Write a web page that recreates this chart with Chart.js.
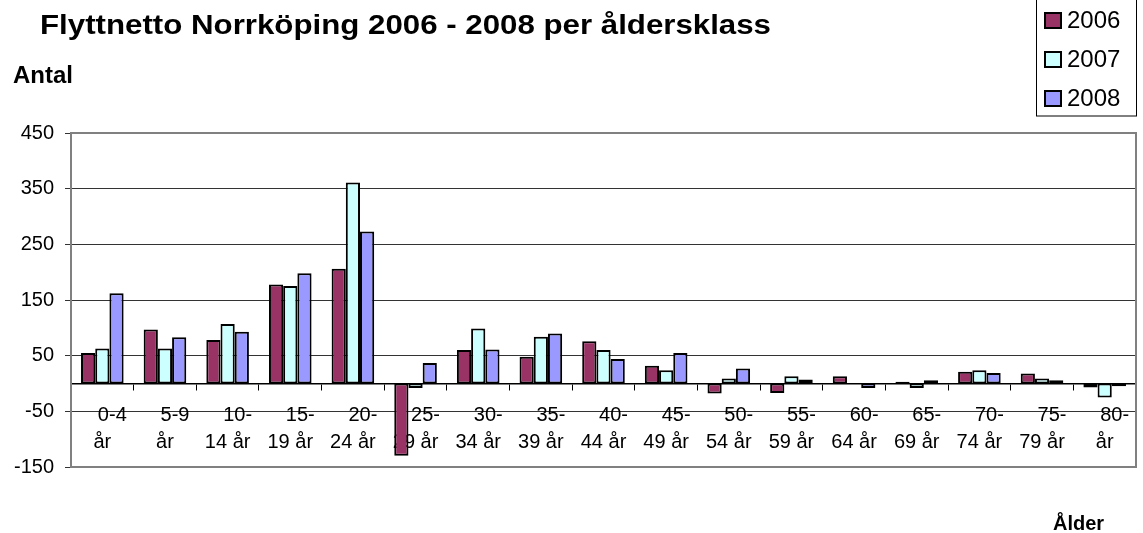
<!DOCTYPE html>
<html><head><meta charset="utf-8">
<script src="https://cdn.jsdelivr.net/npm/chart.js@4/dist/chart.umd.min.js"></script>
<style>html,body{margin:0;padding:0;background:#fff;}#wrap{width:1143px;height:533px;position:relative;}</style>
</head><body><div id="wrap"><canvas id="c" width="1143" height="533"></canvas></div>
<script>
const titleText = 'Flyttnetto Norrköping 2006 - 2008 per åldersklass';
const yTitle = 'Antal';
const xTitle = 'Ålder';
const labelLine1 = ['0-4','5-9','10-','15-','20-','25-','30-','35-','40-','45-','50-','55-','60-','65-','70-','75-','80-'];
const labelLine2 = ['år','år','14 år','19 år','24 år','29 år','34 år','39 år','44 år','49 år','54 år','59 år','64 år','69 år','74 år','79 år','år'];
const seriesNames = ['2006','2007','2008'];
const v2006 = [55, 97, 78, 178, 206, -130, 60, 48, 76, 32, -18, -17, 13, 3, 21, 18, -7];
const v2007 = [63, 63, 107, 175, 361, -8, 99, 84, 60, 24, 9, 13, 0, -8, 24, 9, -25];
const v2008 = [162, 83, 93, 198, 273, 37, 61, 90, 44, 55, 27, 7, -8, 6, 19, 6, -5];
const yTicks = [-150, -50, 50, 150, 250, 350, 450];
const colors = ['#993366', '#CCFFFF', '#9999FF'];

const FONT = '"Liberation Sans", Arial, sans-serif';
Chart.defaults.font.family = FONT;
Chart.defaults.color = '#000';

function stretchedText(ctx, text, x, y, width) {
  const w = ctx.measureText(text).width;
  ctx.save();
  ctx.translate(x, y);
  ctx.scale(width / w, 1);
  ctx.fillText(text, 0, 0);
  ctx.restore();
}

const decor = {
  id: 'decor',
  beforeDraw(chart) {
    const ctx = chart.ctx;
    ctx.save();
    ctx.fillStyle = '#fff';
    ctx.fillRect(0, 0, chart.width, chart.height);
    ctx.restore();
  },
  afterDraw(chart) {
    const ctx = chart.ctx, a = chart.chartArea;
    ctx.save();
    ctx.strokeStyle = '#808080';
    ctx.lineWidth = 2;
    ctx.strokeRect(a.left, a.top, a.right - a.left, a.bottom - a.top);
    ctx.fillStyle = '#000';
    ctx.textAlign = 'left';
    ctx.textBaseline = 'alphabetic';
    ctx.font = 'bold 28px ' + FONT;
    stretchedText(ctx, titleText, 40, 34, 731);
    ctx.font = 'bold 24px ' + FONT;
    ctx.fillText(yTitle, 13, 83);
    ctx.font = 'bold 20px ' + FONT;
    ctx.fillText(xTitle, 1053, 530);
    // legend
    ctx.fillStyle = '#fff';
    ctx.fillRect(1036, -2, 101, 118);
    ctx.strokeStyle = '#000';
    ctx.lineWidth = 1;
    ctx.strokeRect(1036.5, -2, 100, 118);
    chart.data.datasets.forEach((ds, i) => {
      const cy = 20 + i * 39;
      ctx.fillStyle = ds.backgroundColor;
      ctx.fillRect(1045, cy - 7, 16, 15);
      ctx.strokeStyle = '#000';
      ctx.lineWidth = 2;
      ctx.strokeRect(1045, cy - 7, 16, 15);
      ctx.fillStyle = '#000';
      ctx.font = '24px ' + FONT;
      ctx.textBaseline = 'middle';
      ctx.fillText(ds.label, 1067, cy + 1);
    });
    ctx.restore();
  }
};

new Chart(document.getElementById('c'), {
  type: 'bar',
  data: {
    labels: labelLine1.map((l, i) => l + ' ' + labelLine2[i]),
    datasets: [v2006, v2007, v2008].map((d, i) => ({
      label: seriesNames[i],
      data: d,
      backgroundColor: colors[i],
      borderColor: '#000',
      borderWidth: 2,
      borderSkipped: false,
      categoryPercentage: 0.68,
      barPercentage: 1.0
    }))
  },
  options: {
    responsive: false,
    animation: false,
    layout: { padding: { left: 0, top: 133, right: 7, bottom: 66 } },
    plugins: { legend: { display: false }, title: { display: false }, tooltip: { enabled: false } },
    scales: {
      x: {
        position: { y: 0 },
        offset: true,
        grid: { drawOnChartArea: false, drawTicks: true, tickLength: 6, color: '#000', offset: true },
        border: { display: true, color: '#000', width: 1.5 },
        ticks: {
          autoSkip: false, maxRotation: 0, minRotation: 0,
          font: { size: 20, lineHeight: 1.35 }, color: '#000', padding: 12,
          callback: (v, i) => ['\u2002\u2002' + labelLine1[i], labelLine2[i]]
        }
      },
      y: {
        min: -150, max: 450,
        afterFit: (s) => { s.width = 71; },
        afterBuildTicks: (s) => { s.ticks = yTicks.map(v => ({ value: v })); },
        grid: { color: '#333', lineWidth: 1, drawTicks: true, tickLength: 6 },
        border: { display: true, color: '#666', width: 2 },
        ticks: { font: { size: 20 }, color: '#000', padding: 11 }
      }
    }
  },
  plugins: [decor]
});
</script></body></html>
